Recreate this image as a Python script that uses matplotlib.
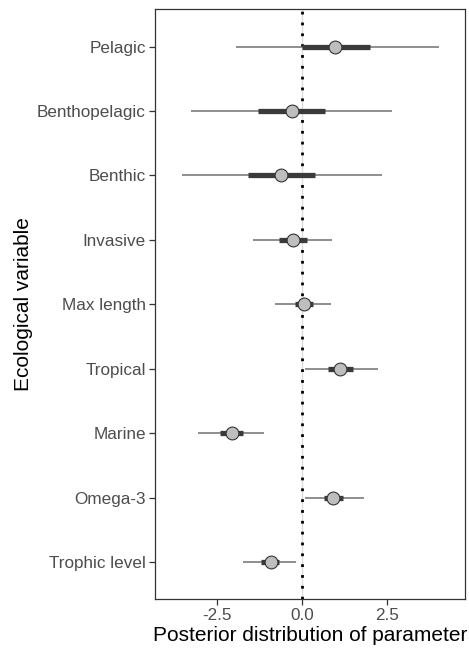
import numpy as np
import matplotlib
matplotlib.use("Agg")
import matplotlib.pyplot as plt

plt.rcParams['font.family'] = ['Liberation Sans', 'DejaVu Sans']

# top to bottom as in the chart
variables = ['Pelagic', 'Benthopelagic', 'Benthic', 'Invasive', 'Max length',
             'Tropical', 'Marine', 'Omega-3', 'Trophic level']
medians = [0.96, -0.31, -0.64, -0.28, 0.05, 1.12, -2.08, 0.91, -0.93]
inner_lo = [-0.02, -1.29, -1.61, -0.68, -0.21, 0.76, -2.41, 0.64, -1.21]
inner_hi = [1.98, 0.68, 0.37, 0.13, 0.32, 1.48, -1.73, 1.21, -0.69]
outer_lo = [-1.94, -3.26, -3.54, -1.44, -0.79, 0.08, -3.08, 0.08, -1.73]
outer_hi = [4.01, 2.65, 2.35, 0.86, 0.83, 2.22, -1.13, 1.81, -0.19]
xticks = [-2.5, 0.0, 2.5]

fig = plt.figure(figsize=(4.69, 6.5), dpi=100)
ax = fig.add_axes([0.3305, 0.078, 0.6615, 0.9077])

ypos = np.arange(len(variables))[::-1] + 1

# reference line at zero
ax.axvline(0, color='#dddddd', lw=1.0, zorder=1)
ax.axvline(0, color='black', lw=2.0, linestyle=(0, (1, 2.9)), zorder=2)

ax.hlines(ypos, outer_lo, outer_hi, color='#707070', lw=1.1, zorder=3)
ax.hlines(ypos, inner_lo, inner_hi, color='#3a3a3a', lw=3.8, zorder=4)
ax.scatter(medians, ypos, s=85, facecolor='#bebebe', edgecolor='#333333',
           linewidth=0.8, zorder=5)

ax.set_xlim(-4.33, 4.79)
ax.set_ylim(0.42, 9.58)
ax.set_xticks(xticks)
ax.set_xticklabels(['%.1f' % t for t in xticks])
ax.set_yticks(ypos)
ax.set_yticklabels(variables)

for sp in ax.spines.values():
    sp.set_color('#333333')
    sp.set_linewidth(0.9)
ax.tick_params(axis='both', colors='#333333', length=4, width=0.9,
               labelsize=12.3, labelcolor='#4d4d4d', pad=2.5)

ax.set_xlabel('Posterior distribution of parameter', fontsize=15, labelpad=2)
ax.set_ylabel('Ecological variable', fontsize=15, labelpad=3)

fig.savefig('out.png', dpi=100)
